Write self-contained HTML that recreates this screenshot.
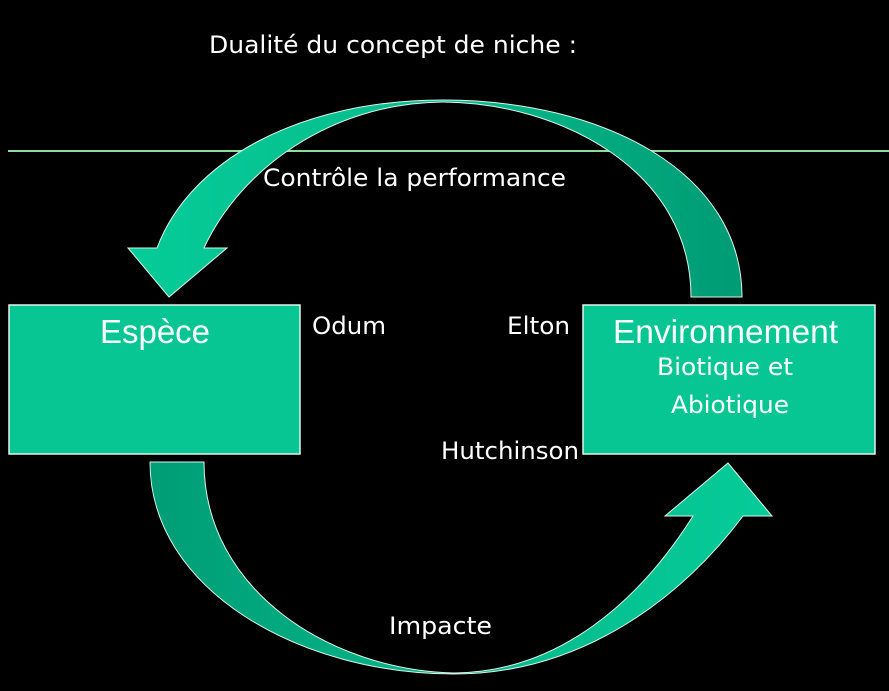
<!DOCTYPE html>
<html><head><meta charset="utf-8"><style>
html,body{margin:0;padding:0;background:#000;width:889px;height:691px;overflow:hidden}
svg{display:block}
</style></head><body>
<svg width="889" height="691" viewBox="0 0 889 691" xmlns="http://www.w3.org/2000/svg">
<defs>
<linearGradient id="g1" x1="0" y1="0" x2="1" y2="0">
<stop offset="0" stop-color="#05cc98"/><stop offset="0.5" stop-color="#06bb8c"/><stop offset="1" stop-color="#009b74"/>
</linearGradient>
<linearGradient id="g2" x1="0" y1="0" x2="1" y2="0">
<stop offset="0" stop-color="#009d76"/><stop offset="0.5" stop-color="#04b88a"/><stop offset="1" stop-color="#05cc98"/>
</linearGradient>
</defs>
<rect width="889" height="691" fill="#000"/>
<text x="209" y="53" font-family="DejaVu Sans Condensed, DejaVu Sans, sans-serif" font-size="24" fill="#fff" textLength="368" lengthAdjust="spacingAndGlyphs">Dualité du concept de niche :</text>
<line x1="8" y1="151" x2="889" y2="151" stroke="#8fdc9c" stroke-width="2"/>
<path d="M742,297 C742,170 600,100 443,100 C300,100 190,160 157,248 L128,248 L169,297 L227,248 L204,248 C240,170 330,103 443,102 C560,103 691,170 691,297 Z" fill="url(#g1)" stroke="#d8f5ea" stroke-width="1"/>
<path d="M150,462 C150,590 300,674 454,674 C580,674 680,600 743,516 L772,516 L728,463 L665,516 L693,516 C640,600 560,672 454,673 C330,670 204,590 204,462 Z" fill="url(#g2)" stroke="#d8f5ea" stroke-width="1"/>
<text x="263" y="186" font-family="DejaVu Sans Condensed, DejaVu Sans, sans-serif" font-size="24" fill="#fff" textLength="303" lengthAdjust="spacingAndGlyphs">Contrôle la performance</text>
<rect x="9" y="305" width="291" height="149" fill="#07c693" stroke="#e0f5ec" stroke-width="1.5"/>
<rect x="583" y="305" width="292" height="149" fill="#07c693" stroke="#e0f5ec" stroke-width="1.5"/>
<text x="100" y="343" font-family="Liberation Sans, sans-serif" font-size="33" fill="#fff" textLength="110" lengthAdjust="spacingAndGlyphs">Espèce</text>
<text x="613" y="343" font-family="Liberation Sans, sans-serif" font-size="33" fill="#fff" textLength="225" lengthAdjust="spacingAndGlyphs">Environnement</text>
<text x="657" y="375" font-family="DejaVu Sans Condensed, DejaVu Sans, sans-serif" font-size="24" fill="#fff" textLength="136" lengthAdjust="spacingAndGlyphs">Biotique et</text>
<text x="671" y="413" font-family="DejaVu Sans Condensed, DejaVu Sans, sans-serif" font-size="24" fill="#fff" textLength="118" lengthAdjust="spacingAndGlyphs">Abiotique</text>
<text x="312" y="334" font-family="DejaVu Sans Condensed, DejaVu Sans, sans-serif" font-size="24" fill="#fff" textLength="74" lengthAdjust="spacingAndGlyphs">Odum</text>
<text x="507" y="334" font-family="DejaVu Sans Condensed, DejaVu Sans, sans-serif" font-size="24" fill="#fff" textLength="63" lengthAdjust="spacingAndGlyphs">Elton</text>
<text x="441" y="459" font-family="DejaVu Sans Condensed, DejaVu Sans, sans-serif" font-size="24" fill="#fff" textLength="138" lengthAdjust="spacingAndGlyphs">Hutchinson</text>
<text x="389" y="634" font-family="DejaVu Sans Condensed, DejaVu Sans, sans-serif" font-size="24" fill="#fff" textLength="103" lengthAdjust="spacingAndGlyphs">Impacte</text>
</svg>
</body></html>
